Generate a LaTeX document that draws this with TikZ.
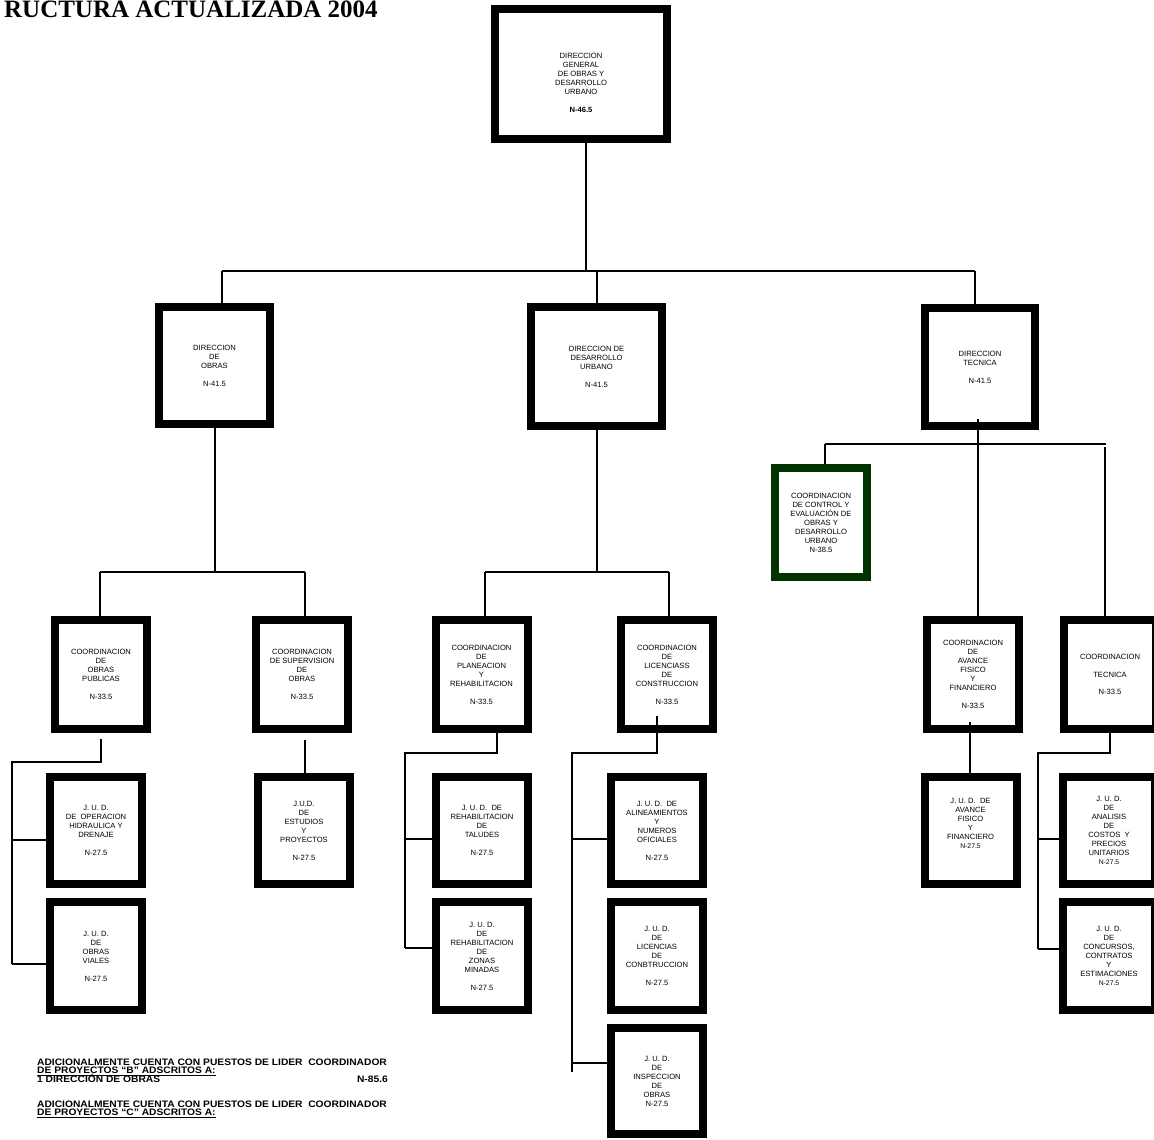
\documentclass[tikz,border=0pt]{standalone}
\usepackage{fontspec}
\newfontfamily\orgfont{Liberation Sans}
\newfontfamily\orgtitlefont{Liberation Serif}
\newfontfamily\orgnotefont[FakeStretch=1.09]{Liberation Sans}
\newcommand{\orgboxtext}{\orgfont\fontsize{7.6}{9}\selectfont}
\newcommand{\orgsmallN}[1]{{\fontsize{6.8}{9}\selectfont #1}}
\definecolor{ccGreen}{RGB}{0,51,0}

\begin{document}
\begin{tikzpicture}
[x=1pt,y=-1pt,
  boxDecorate/.style={draw,line width=8pt,minimum width=92pt,minimum height=109pt,
    inner sep=0pt,align=center,font=\orgboxtext},
  lineDecorate/.style={line width=2pt,line join=miter},
  noteDecorate/.style={inner sep=0pt,anchor=base west,
    font=\orgnotefont\bfseries\fontsize{9.4}{9}\selectfont}]
\useasboundingbox (0,0) rectangle (1154,1140);
\clip (0,0) rectangle (1154,1140);
%%
%%%%%%%%%%%%%%%%%%%%%%%%%%%%%%%%%%%%%%%%%%%%%%%%%%%%%%%%%%%%%%%%%%%%%%%%%%%
%%
%% title
\node (title) at (378,17.5) [anchor=base east,inner sep=0pt,
  font=\orgtitlefont\bfseries\fontsize{25}{30}\selectfont] {RUCTURA ACTUALIZADA 2004};
%%
%%%%%%%%%%%%%%%%%%%%%%%%%%%%%%%%%%%%%%%%%%%%%%%%%%%%%%%%%%%%%%%%%%%%%%%%%%%
%%
%% top levels
\node (DG) at (581,74) [boxDecorate,minimum width=172pt,minimum height=130pt]
  {\rule{0pt}{23pt}DIRECCION\\GENERAL\\DE OBRAS Y\\DESARROLLO\\URBANO\\[9pt]\textbf{N-46.5}};
\node (DO) at (214.5,365.5) [boxDecorate,minimum width=111pt,minimum height=117pt]
  {DIRECCION\\DE\\OBRAS\\[9pt]N-41.5};
\node (DDU) at (596.5,366.5) [boxDecorate,minimum width=131pt,minimum height=119pt]
  {DIRECCION DE\\DESARROLLO\\URBANO\\[9pt]N-41.5};
\node (DT) at (980,367) [boxDecorate,minimum width=110pt,minimum height=118pt]
  {DIRECCION\\TECNICA\\[9pt]N-41.5};
\node (CCE) at (821,522.5) [boxDecorate,draw=ccGreen]
  {COORDINACION\\DE CONTROL Y\\EVALUACIÓN DE\\OBRAS Y\\DESARROLLO\\URBANO\\N-38.5};
%%
%%%%%%%%%%%%%%%%%%%%%%%%%%%%%%%%%%%%%%%%%%%%%%%%%%%%%%%%%%%%%%%%%%%%%%%%%%%
%%
%% coordinaciones
\node (COP) at (101,674.5) [boxDecorate]
  {COORDINACION\\DE\\OBRAS\\PUBLICAS\\[9pt]N-33.5};
\node (CSO) at (302,674.5) [boxDecorate]
  {COORDINACION\\DE SUPERVISION\\DE\\OBRAS\\[9pt]N-33.5};
\node (CPR) at (481.5,674.5) [boxDecorate]
  {COORDINACION\\DE\\PLANEACION\\Y\\REHABILITACION\\[9pt]N-33.5};
\node (CLC) at (667,674.5) [boxDecorate]
  {COORDINACION\\DE\\LICENCIASS\\DE\\CONSTRUCCION\\[9pt]N-33.5};
\node (CAFF) at (973,674.5) [boxDecorate]
  {COORDINACION\\DE\\AVANCE\\FISICO\\Y\\FINANCIERO\\[9pt]N-33.5};
\node (CT) at (1110,674.5) [boxDecorate]
  {COORDINACION\\[8.5pt]TECNICA\\[8.5pt]N-33.5};
%%
%%%%%%%%%%%%%%%%%%%%%%%%%%%%%%%%%%%%%%%%%%%%%%%%%%%%%%%%%%%%%%%%%%%%%%%%%%%
%%
%% jefaturas
\node (JOHD) at (96,830.5) [boxDecorate,minimum height=107pt]
  {J. U. D.\\DE\ \ OPERACION\\HIDRAULICA Y\\DRENAJE\\[9pt]N-27.5};
\node (JOV) at (96,956) [boxDecorate,minimum height=108pt]
  {J. U. D.\\DE\\OBRAS\\VIALES\\[9pt]N-27.5};
\node (JEP) at (304,830.5) [boxDecorate,minimum height=107pt]
  {J.U.D.\\DE\\ESTUDIOS\\Y\\PROYECTOS\\[9pt]N-27.5};
\node (JRT) at (482,830.5) [boxDecorate,minimum height=107pt]
  {J. U. D.\ \ DE\\REHABILITACION\\DE\\TALUDES\\[9pt]N-27.5};
\node (JRZM) at (482,956) [boxDecorate,minimum height=108pt]
  {J. U. D.\\DE\\REHABILITACION\\DE\\ZONAS\\MINADAS\\[9pt]N-27.5};
\node (JAN) at (657,830.5) [boxDecorate,minimum height=107pt]
  {J. U. D.\ \ DE\\ALINEAMIENTOS\\Y\\NUMEROS\\OFICIALES\\[9pt]N-27.5};
\node (JLC) at (657,956) [boxDecorate,minimum height=108pt]
  {J. U. D.\\DE\\LICENCIAS\\DE\\CONBTRUCCION\\[9pt]N-27.5};
\node (JIO) at (657,1081) [boxDecorate,minimum height=106pt]
  {J. U. D.\\DE\\INSPECCION\\DE\\OBRAS\\N-27.5};
\node (JAFF) at (970.5,830.5) [boxDecorate,minimum height=107pt]
  {J. U. D.\ \ DE\\AVANCE\\FISICO\\Y\\FINANCIERO\\\orgsmallN{N-27.5}\\[6pt]};
\node (JACPU) at (1109,830.5) [boxDecorate,minimum height=107pt]
  {J. U. D.\\DE\\ANALISIS\\DE\\COSTOS\ \ Y\\PRECIOS\\UNITARIOS\\\orgsmallN{N-27.5}};
\node (JCCE) at (1109,956) [boxDecorate,minimum height=108pt]
  {J. U. D.\\DE\\CONCURSOS,\\CONTRATOS\\Y\\ESTIMACIONES\\\orgsmallN{N-27.5}};
%%
%%%%%%%%%%%%%%%%%%%%%%%%%%%%%%%%%%%%%%%%%%%%%%%%%%%%%%%%%%%%%%%%%%%%%%%%%%%
%%
%% junction points
\coordinate (g0) at (586,271);
\coordinate (g1) at (222,271);
\coordinate (g2) at (597,271);
\coordinate (g3) at (975,271);
\coordinate (o0) at (215,572);
\coordinate (o1) at (100,572);
\coordinate (o2) at (305,572);
\coordinate (u0) at (597,572);
\coordinate (u1) at (485,572);
\coordinate (u2) at (669,572);
\coordinate (t0) at (978,419);
\coordinate (t1) at (825,444);
\coordinate (t2) at (1106,444);
\coordinate (t3) at (1105,447);
\coordinate (p0) at (101,739);
\coordinate (p1) at (101,762);
\coordinate (p2) at (12,762);
\coordinate (p3) at (12,964);
\coordinate (p4) at (12,840);
\coordinate (s0) at (305,740);
\coordinate (r0) at (497,753);
\coordinate (r1) at (405,753);
\coordinate (r2) at (405,948);
\coordinate (r3) at (405,839);
\coordinate (c0) at (657,716);
\coordinate (c1) at (657,753);
\coordinate (c2) at (572,753);
\coordinate (c3) at (572,1072);
\coordinate (c4) at (572,839);
\coordinate (c5) at (572,1063);
\coordinate (a0) at (970,722);
\coordinate (k0) at (1110,753);
\coordinate (k1) at (1038,753);
\coordinate (k2) at (1038,949);
\coordinate (k3) at (1038,839);
%% edges or lines
\draw[lineDecorate] (DG.south -| g0) -- (g0);
\draw[lineDecorate] (g1) -- (g3);
\path
\foreach \startnode/\endnode in {
  g1/DO.north -| g1, g2/DDU.north -| g2, g3/DT.north -| g3,
  DO.south -| o0/o0, o1/o2, o1/COP.north -| o1, o2/CSO.north -| o2,
  DDU.south -| u0/u0, u1/u2, u1/CPR.north -| u1, u2/CLC.north -| u2,
  t0/CAFF.north -| t0, t1/t2, t1/CCE.north -| t1, t3/CT.north -| t3,
  p4/JOHD.west |- p4, p3/JOV.west |- p3,
  s0/JEP.north -| s0,
  r3/JRT.west |- r3, r2/JRZM.west |- r2,
  c4/JAN.west |- c4, c5/JIO.west |- c5,
  a0/JAFF.north -| a0,
  k3/JACPU.west |- k3, k2/JCCE.west |- k2}
{
  (\startnode) edge[lineDecorate] (\endnode)
};
\draw[lineDecorate] (p0) -- (p1) -- (p2) -- (p3);
\draw[lineDecorate] (CPR.south -| r0) -- (r0) -- (r1) -- (r2);
\draw[lineDecorate] (c0) -- (c1) -- (c2) -- (c3);
\draw[lineDecorate] (CT.south -| k0) -- (k0) -- (k1) -- (k2);
%%
%%%%%%%%%%%%%%%%%%%%%%%%%%%%%%%%%%%%%%%%%%%%%%%%%%%%%%%%%%%%%%%%%%%%%%%%%%%
%%
%% notes
\node (noteB1) at (37,1065.6) [noteDecorate]
  {ADICIONALMENTE CUENTA CON PUESTOS DE LIDER\ \ COORDINADOR};
\node (noteB2) at (37,1073.8) [noteDecorate] {\underline{DE PROYECTOS “B” ADSCRITOS A:}};
\node (noteB3) at (37,1082.6) [noteDecorate] {1 DIRECCIÓN DE OBRAS};
\node (noteB4) at (388,1082.6) [noteDecorate,anchor=base east] {N-85.6};
\node (noteC1) at (37,1107.5) [noteDecorate]
  {ADICIONALMENTE CUENTA CON PUESTOS DE LIDER\ \ COORDINADOR};
\node (noteC2) at (37,1115.8) [noteDecorate] {\underline{DE PROYECTOS “C” ADSCRITOS A:}};
\end{tikzpicture}
\end{document}
